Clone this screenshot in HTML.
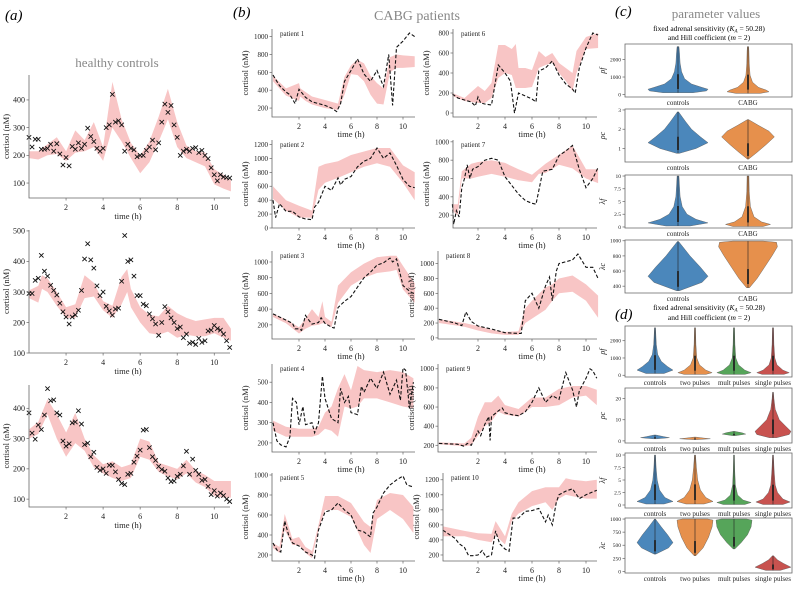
<!DOCTYPE html>
<html><head><meta charset="utf-8">
<style>
html,body{margin:0;padding:0;background:#fff;}
svg, svg text{font-family:"Liberation Serif","DejaVu Serif",serif;}
</style></head>
<body>
<svg id="fig" width="793" height="586" viewBox="0 0 793 586" xmlns="http://www.w3.org/2000/svg" font-family="Liberation Serif, serif">
<text x="5" y="20" font-size="15" font-style="italic">(a)</text>
<text x="117" y="67" font-size="13" fill="#888" text-anchor="middle">healthy controls</text>
<text x="233" y="17" font-size="15" font-style="italic">(b)</text>
<text x="417" y="20" font-size="14" fill="#888" text-anchor="middle">CABG patients</text>
<text x="615" y="16" font-size="15" font-style="italic">(c)</text>
<text x="716" y="18" font-size="13" fill="#888" text-anchor="middle">parameter values</text>
<text x="709" y="31" font-size="7.5" text-anchor="middle">fixed adrenal sensitivity (<tspan font-style="italic">K<tspan font-size="5" dy="1.5">A</tspan></tspan><tspan dy="-1.5"> = 50.28)</tspan></text>
<text x="709" y="40" font-size="7.5" text-anchor="middle">and Hill coefficient (<tspan font-style="italic">m</tspan> = 2)</text>
<text x="615" y="319" font-size="15" font-style="italic">(d)</text>
<text x="709" y="310" font-size="7.5" text-anchor="middle">fixed adrenal sensitivity (<tspan font-style="italic">K<tspan font-size="5" dy="1.5">A</tspan></tspan><tspan dy="-1.5"> = 50.28)</tspan></text>
<text x="709" y="320" font-size="7.5" text-anchor="middle">and Hill coefficient (<tspan font-style="italic">m</tspan> = 2)</text>
</svg>
<script>
// ---------- Panel (a): healthy controls (10-min samples) ----------
const a1Vals=[265,230,258,258,222,222,225,240,215,242,205,165,192,162,232,222,245,225,240,298,268,250,225,215,225,300,310,420,320,325,310,215,240,225,220,195,200,200,218,230,255,220,245,320,385,355,380,310,265,200,215,222,215,225,228,210,218,200,188,155,130,108,130,122,120,118];
const a1BandT=[0,0.5,1,1.5,2,2.5,3,3.5,4,4.5,5,5.5,6,6.5,7,7.5,8,8.5,9,9.5,10,10.5,10.9];
const a1Lo=[190,185,200,205,180,210,215,230,180,300,250,190,135,175,250,330,230,190,175,160,95,80,70];
const a1Hi=[215,215,240,265,215,290,255,320,230,465,330,245,200,250,340,440,320,235,215,210,150,130,110];
const a2Vals=[295,295,338,345,420,368,352,322,305,290,263,235,218,195,218,225,240,305,408,458,405,378,320,288,300,253,238,224,244,247,335,485,400,405,352,288,288,260,255,228,212,195,158,200,252,235,215,200,180,185,150,162,132,135,128,148,135,140,172,175,190,180,175,162,140,118];
const a2BandT=[0,0.5,0.7,1,1.5,2,2.5,3,3.5,4,4.5,5,5.3,5.5,6,6.5,7,7.5,8,8.5,9,9.5,10,10.5,10.9];
const a2Lo=[280,265,310,300,255,215,215,280,285,240,215,260,300,250,200,165,160,170,150,160,155,155,165,150,140];
const a2Hi=[305,320,355,345,300,250,260,355,330,270,255,350,375,310,250,225,220,255,230,215,205,210,215,215,180];
const a3Vals=[385,318,298,345,330,378,465,425,428,385,378,292,275,283,352,355,392,348,280,285,240,255,205,195,200,185,212,212,190,165,152,148,182,185,222,242,262,328,330,270,240,228,208,198,192,170,158,160,175,182,210,258,182,232,195,182,162,165,142,115,128,110,120,112,100,92];
const a3BandT=[0,0.5,1,1.5,2,2.5,3,3.5,4,4.5,5,5.5,6,6.5,7,7.5,8,8.5,9,9.5,10,10.5,10.9];
const a3Lo=[300,315,380,300,240,285,260,205,185,170,160,170,240,230,190,175,165,185,155,140,110,105,105];
const a3Hi=[330,355,430,380,320,385,300,245,215,225,205,215,300,290,220,210,200,230,195,180,160,160,160];
const aTicksX=[2,4,6,8,10];
const a1TicksY=[100,200,300,400];
const a2TicksY=[100,200,300,400,500];
const a3TicksY=[100,200,300,400];

// ---------- Panel (b): CABG patients ----------
const p1T=[0,0.5,1,1.3,1.7,2,2.5,3,3.5,4,4.5,4.9,5.2,5.5,6,6.5,7,7.5,8,8.5,8.9,9.2,9.5,10,10.5,10.9];
const p1V=[570,450,380,350,250,410,320,270,250,230,200,160,250,500,620,750,580,500,620,440,800,230,880,950,1040,1000];
const p1BT=[0,1,2,2.1,2.5,3,4,5,5.5,6,6.5,7,7.5,8,8.5,9,9.5,10,10.9];
const p1Lo=[500,340,280,330,280,240,200,180,350,580,570,500,350,250,240,600,650,650,660];
const p1Hi=[560,420,480,420,380,330,290,250,550,680,740,700,560,480,420,770,800,790,780];
const p6T=[0.1,0.5,1,1.5,1.8,2,2.2,2.5,3,3.5,4,4.4,4.7,5,5.5,6,6.3,6.5,7,7.5,8,8.5,9,9.2,9.5,10,10.5,10.9];
const p6V=[190,150,130,110,70,160,100,90,80,480,400,320,0,200,170,140,110,420,450,520,380,290,240,200,450,650,800,780];
const p6BT=[0.1,1,2,2.5,3,3.5,4,4.5,4.8,5,5.5,6,6.5,7,7.5,8,8.5,9,9.3,10,10.9];
const p6Lo=[170,120,100,100,150,350,400,380,250,250,250,260,450,480,500,400,320,220,400,640,650];
const p6Hi=[200,150,270,220,300,680,680,640,690,450,450,430,620,560,600,500,450,400,620,760,800];
const p2T=[0,0.2,0.5,1,1.5,2,2.5,3,3.2,3.5,4,4.5,5,5.2,5.5,6,6.5,7,7.5,8,8.5,9,9.5,10,10.5,10.9];
const p2V=[400,150,350,240,240,160,130,120,300,370,600,540,720,620,700,740,880,960,1000,1150,1000,1080,900,700,600,580];
const p2BT=[0,1,2,3,3.5,4,5,6,7,8,9,10,10.9];
const p2Lo=[420,250,150,150,550,650,720,800,880,930,880,650,400];
const p2Hi=[600,400,320,250,880,920,960,1050,1100,1150,1150,900,800];
const p7T=[0.1,0.2,0.4,0.6,0.8,1,1.2,1.4,1.6,2,2.5,3,3.5,4,5,5.5,6,6.3,6.8,7.5,8,8.5,9,9.5,10,10.5,10.9];
const p7V=[320,100,250,180,500,600,750,600,700,730,800,820,800,620,430,360,330,320,680,700,850,900,960,700,500,600,720];
const p7BT=[0.1,0.5,0.8,1.5,2,3,4,5,6,6.5,7,8,9,10,10.9];
const p7Lo=[250,200,600,600,620,650,620,580,560,650,660,750,710,600,550];
const p7Hi=[320,320,680,760,780,800,770,700,640,700,760,860,960,700,700];
const p3T=[0,0.5,1,1.5,1.7,2,2.2,2.5,2.8,3,3.5,3.7,4,4.5,4.7,5,5.5,6,6.5,7,7.5,8,8.5,9,9.2,9.5,10,10.5,10.9];
const p3V=[340,300,260,220,150,150,130,320,250,210,230,290,220,170,160,420,500,560,680,800,870,960,990,1050,1000,1040,700,630,590];
const p3BT=[0,1,2,2.5,3,3.5,3.8,4,4.5,5,6,7,8,9,9.5,10,10.9];
const p3Lo=[300,220,90,150,190,200,220,220,170,480,700,800,860,880,900,650,480];
const p3Hi=[340,270,170,280,400,300,500,300,240,700,870,980,1060,1080,1080,950,730];
const p8T=[-0.9,0.3,0.8,1.1,1.5,2,3,4,5,5.2,5.5,6,6.5,7,7.3,7.5,7.8,8,9,9.4,10,10.5,10.9];
const p8V=[250,200,165,350,220,160,120,70,60,60,500,600,400,700,820,500,900,1000,1050,1130,950,950,800];
const p8BT=[-0.9,1,2,3,4,5,5.5,6,7,7.5,8,9,10,10.9];
const p8Lo=[200,150,100,60,40,40,200,260,380,500,600,620,500,270];
const p8Hi=[250,200,160,110,80,90,400,500,680,720,800,840,720,570];
const p4T=[0,0.3,0.6,1,1.3,1.5,1.8,2,2.3,2.5,3,3.2,3.5,3.8,4,4.5,5,5.2,5.5,5.8,6,6.5,6.8,7,7.5,8,8.5,9,9.5,9.8,10,10.2,10.5,10.8];
const p4V=[300,210,190,180,230,420,400,290,380,290,300,250,300,530,420,320,300,470,400,430,350,340,480,450,520,470,550,440,510,410,570,560,370,500];
const p4BT=[0,1,2,3,3.5,4,4.5,5,5.5,6,6.5,7,8,9,10,10.8];
const p4Lo=[260,230,230,230,240,270,260,230,380,370,380,420,420,400,380,370];
const p4Hi=[310,280,270,270,280,350,380,470,540,460,580,560,550,560,550,520];
const p9T=[-0.9,0.5,1,1.2,1.5,2,2.2,2.5,2.8,2.9,3,3.5,3.8,4,4.5,5,5.5,6,6.5,7,7.5,8,8.5,9,9.3,9.5,10,10.3,10.5,10.8];
const p9V=[220,210,190,220,200,350,300,420,500,250,500,560,590,540,520,510,550,650,800,650,720,680,960,780,600,770,900,1000,980,900];
const p9BT=[-0.9,1,1.5,2,2.5,3,3.5,4,5,6,7,8,9,10,10.8];
const p9Lo=[210,190,200,300,400,450,550,520,500,600,600,620,700,720,620];
const p9Hi=[230,220,280,500,650,650,720,620,580,700,700,790,820,820,780];
const p5T=[0,0.3,0.6,0.9,1.2,1.5,2,2.5,3,3.2,3.5,4,4.5,5,5.5,6,6.5,7,7.5,7.7,8,8.5,9,9.5,10,10.3,10.8];
const p5V=[320,250,230,540,400,320,290,230,200,170,450,630,650,720,650,600,450,430,380,620,680,820,900,950,990,900,880];
const p5BT=[0,0.5,0.9,1.5,2,2.5,3,3.5,4,5,6,7,7.5,8,9,10,10.8];
const p5Lo=[270,220,450,300,300,220,170,450,650,650,580,300,220,560,650,560,420];
const p5Hi=[320,280,610,360,380,280,240,500,790,790,720,530,480,750,820,800,680];
const p10T=[-0.6,0.3,0.6,1,1.3,1.6,2,2.3,2.6,3,3.3,3.6,4,4.3,4.6,5,5.5,6,6.5,7,7.2,7.5,7.8,8,8.5,9,9.5,10,10.5,10.8];
const p10V=[530,420,350,300,190,190,200,260,170,200,520,350,280,250,690,690,780,790,820,640,730,600,900,1000,1050,1080,950,1000,1040,1060];
const p10BT=[-0.6,1,2,3,3.3,4,4.5,5,6,7,7.5,8,8.5,9,10,10.8];
const p10Lo=[450,450,400,370,460,340,650,750,850,900,800,950,1000,980,950,950];
const p10Hi=[580,520,490,480,650,450,750,900,1050,1100,1100,1100,1220,1200,1180,1200];
const bTicksX=[2,4,6,8,10];

// ---------- Panels (c),(d): violins — [value, relative density] profiles ----------
const cGroups=["controls","CABG"];
const dGroups=["controls","two pulses","mult pulses","single pulses"];
const cRhoTicks=[0,1000,2000];
const cRhoControls=[[100,0.5],[200,0.95],[300,1],[400,0.8],[600,0.45],[900,0.22],[1300,0.12],[1800,0.07],[2400,0.05],[2750,0.03]];
const cRhoCABG=[[60,0.4],[150,0.7],[250,0.6],[400,0.35],[700,0.15],[1100,0.07],[1800,0.04],[2500,0.03],[2750,0.02]];
const cRcTicks=[1,2,3];
const cRcControls=[[0.75,0.05],[1,0.6],[1.3,1],[1.6,0.75],[2,0.45],[2.4,0.25],[2.9,0.02]];
const cRcCABG=[[0.45,0.02],[0.8,0.3],[1.2,0.6],[1.6,0.88],[1.9,0.7],[2.2,0.35],[2.5,0.02]];
const cLpTicks=[0,2.5,5,7.5,10];
const cLpControls=[[0.2,0.4],[0.8,1],[1.5,0.6],[2.5,0.3],[4,0.14],[6,0.07],[8,0.05],[10,0.03]];
const cLpCABG=[[0.1,0.5],[0.5,0.75],[1,0.45],[2,0.2],[4,0.08],[7,0.04],[10,0.03]];
const cLcTicks=[400,600,800,1000];
const cLcControls=[[340,0.05],[450,0.8],[530,1],[650,0.75],[800,0.4],[900,0.2],[990,0.02]];
const cLcCABG=[[380,0.05],[500,0.3],[650,0.55],[800,0.8],[920,0.98],[980,0.95],[995,0.5]];
const dRhoTicks=[0,1000,2000];
const dRhoControls=[[100,0.5],[300,1],[500,0.7],[800,0.35],[1200,0.15],[1800,0.07],[2750,0.03]];
const dRhoTwo=[[50,0.6],[150,0.95],[300,0.6],[600,0.25],[1000,0.1],[1800,0.05],[2750,0.03]];
const dRhoMult=[[50,0.6],[150,0.95],[300,0.6],[600,0.25],[1000,0.1],[1800,0.05],[2750,0.03]];
const dRhoSingle=[[50,0.6],[150,0.9],[300,0.55],[600,0.22],[1000,0.1],[1800,0.05],[2750,0.03]];
const dRcTicks=[0,10,20];
const dRcControls=[[1,0.1],[1.5,0.8],[2,0.5],[2.8,0.05]];
const dRcTwo=[[0.6,0.1],[1,0.85],[1.3,0.5],[1.8,0.05]];
const dRcMult=[[2.5,0.1],[3.2,0.65],[3.8,0.45],[4.5,0.05]];
const dRcSingle=[[1.5,0.2],[3,0.9],[4.5,1],[7,0.7],[10,0.35],[15,0.12],[20,0.05],[23,0.02]];
const dLpTicks=[0,2.5,5,7.5,10];
const dLpControls=[[0.2,0.5],[0.7,1],[1.5,0.55],[3,0.25],[5,0.12],[7.5,0.06],[10,0.03]];
const dLpTwo=[[0.2,0.5],[0.7,1],[1.5,0.6],[3,0.3],[5,0.15],[7.5,0.08],[10,0.03]];
const dLpMult=[[0.1,0.6],[0.5,0.95],[1,0.5],[2,0.2],[4,0.08],[7,0.04],[10,0.02]];
const dLpSingle=[[0.1,0.55],[0.6,0.95],[1.2,0.55],[2.5,0.25],[4,0.12],[7,0.06],[10,0.02]];
const dLcTicks=[0,250,500,750,1000];
const dLcControls=[[330,0.05],[450,0.75],[550,1],[700,0.7],[850,0.35],[1000,0.02]];
const dLcTwo=[[300,0.05],[450,0.45],[650,0.75],[850,0.95],[980,1],[1000,0.7]];
const dLcMult=[[430,0.05],[550,0.4],[700,0.75],[850,0.95],[980,1],[1000,0.7]];
const dLcSingle=[[20,0.4],[80,1],[150,0.6],[220,0.25],[300,0.03]];

// ---------- drawing helpers ----------
const NS="http://www.w3.org/2000/svg";
const svg=document.getElementById('fig');
function mk(tag,attrs,parent){const e=document.createElementNS(NS,tag);for(const k in attrs)e.setAttribute(k,attrs[k]);(parent||svg).appendChild(e);return e;}
function lin(d0,d1,r0,r1){return v=>r0+(v-d0)*(r1-r0)/(d1-d0);}

function axesFrame(g,x0,x1,y0,y1,box){
  const spine=mk('path',{d:box?`M${x0},${y0}H${x1}V${y1}H${x0}Z`:`M${x0},${y0}V${y1}H${x1}`,fill:'none',stroke:'#666','stroke-width':0.8},g);
  
  
}
function yTicks(g,ticks,sy,x0,fs,name){
  ticks.forEach(t=>{
    const y=sy(t);
    mk('line',{x1:x0-2.5,x2:x0,y1:y,y2:y,stroke:'#666','stroke-width':0.7},g);
    const tx=mk('text',{x:x0-4,y:y+fs*0.35,'font-size':fs,'text-anchor':'end',fill:'#222'},g);
    tx.textContent=String(t);
    
    
  });
}
function xTicks(g,ticks,sx,y1,fs){
  ticks.forEach(t=>{
    const x=sx(t);
    mk('line',{x1:x,x2:x,y1:y1,y2:y1+2.5,stroke:'#666','stroke-width':0.7},g);
    const tx=mk('text',{x:x,y:y1+4+fs,'font-size':fs,'text-anchor':'middle',fill:'#222'},g);
    tx.textContent=String(t);
    
    
  });
}
function bandPath(sx,sy,T,lo,hi){
  let d='M'+T.map((t,i)=>sx(t).toFixed(1)+','+sy(hi[i]).toFixed(1)).join('L');
  for(let i=T.length-1;i>=0;i--)d+='L'+sx(T[i]).toFixed(1)+','+sy(lo[i]).toFixed(1);
  return d+'Z';
}
function label(g,txt,x,y,fs,name,rot){
  const t=mk('text',{x:x,y:y,'font-size':fs,'text-anchor':'middle',fill:'#222'},g);
  if(rot)t.setAttribute('transform',`rotate(-90 ${x} ${y})`);
  t.textContent=txt;
  
  
}

// ---------- panel (a) ----------
function controlPlot(id,vals,bT,lo,hi,yt,box){
  const g=mk('g',{});
  
  
  const sx=lin(0,10.85,29,230), sy=lin(box.ymin,box.ymax,box.y1,box.y0);
  const band=mk('path',{d:bandPath(sx,sy,bT,lo,hi),fill:'#f8c5c5',stroke:'none'},g);
  
  
  vals.forEach((v,i)=>{
    const x=sx(i/6),y=sy(v),s=2.2;
    const m=mk('path',{d:`M${x-s},${y-s}L${x+s},${y+s}M${x-s},${y+s}L${x+s},${y-s}`,stroke:'#111','stroke-width':0.9},g);
    
    
  });
  axesFrame(g,29,230,box.y0,box.y1,false);
  yTicks(g,yt,sy,29,8,'y-tick-label');
  xTicks(g,aTicksX,sx,box.y1,8);
  label(g,'time (h)',128,box.y1+21,8.5,'x-axis-title');
  label(g,'cortisol (nM)',9,(box.y0+box.y1)/2,8.5,'y-axis-title',true);
}
controlPlot(1,a1Vals,a1BandT,a1Lo,a1Hi,a1TicksY,{y0:75,y1:198,ymin:46,ymax:490});
controlPlot(2,a2Vals,a2BandT,a2Lo,a2Hi,a2TicksY,{y0:230,y1:353,ymin:100,ymax:503});
controlPlot(3,a3Vals,a3BandT,a3Lo,a3Hi,a3TicksY,{y0:385,y1:507,ymin:74,ymax:477});

// ---------- panel (b) ----------
function patientPlot(n,T,V,BT,lo,hi,yt,c){
  const g=mk('g',{});
  
  
  const y1=c.ax, y0=c.ax-88;
  const x0=c.col===1?272:c.spine, x1=c.col===1?415:597;
  const sx=c.col===1?lin(0,2,273,299):lin(0,2,451,478);
  const sy=lin(c.ymin,c.ymax,y1,y0);
  const band=mk('path',{d:bandPath(sx,sy,BT,lo,hi),fill:'#f8c5c5',stroke:'none'},g);
  
  
  const line=mk('path',{d:'M'+T.map((t,i)=>sx(t).toFixed(1)+','+sy(V[i]).toFixed(1)).join('L'),fill:'none',stroke:'#111','stroke-width':1.1,'stroke-dasharray':'3.5,2'},g);
  
  
  axesFrame(g,x0,x1,y0,y1,false);
  yTicks(g,yt,sy,x0,7,'y-tick-label');
  xTicks(g,bTicksX,sx,y1,8);
  label(g,'time (h)',(sx(6)),y1+20,8.5,'x-axis-title');
  label(g,'cortisol (nM)',x0-24,(y0+y1)/2,8.5,'y-axis-title',true);
  const pt=mk('text',{x:x0+8,y:y0+7,'font-size':7,fill:'#222'},g);
  pt.textContent='patient '+n;
  
  
}
patientPlot(1,p1T,p1V,p1BT,p1Lo,p1Hi,[200,400,600,800,1000],{col:1,ax:117,ymin:100,ymax:1085});
patientPlot(6,p6T,p6V,p6BT,p6Lo,p6Hi,[0,200,400,600,800],{col:2,spine:453,ax:117,ymin:-40,ymax:840});
patientPlot(2,p2T,p2V,p2BT,p2Lo,p2Hi,[0,200,400,600,800,1000,1200],{col:1,ax:228,ymin:0,ymax:1265});
patientPlot(7,p7T,p7V,p7BT,p7Lo,p7Hi,[200,400,600,800,1000],{col:2,spine:453,ax:228,ymin:60,ymax:1020});
patientPlot(3,p3T,p3V,p3BT,p3Lo,p3Hi,[200,400,600,800,1000],{col:1,ax:339,ymin:20,ymax:1140});
patientPlot(8,p8T,p8V,p8BT,p8Lo,p8Hi,[0,200,400,600,800,1000],{col:2,spine:438,ax:339,ymin:-15,ymax:1170});
patientPlot(4,p4T,p4V,p4BT,p4Lo,p4Hi,[200,300,400,500],{col:1,ax:452,ymin:155,ymax:590});
patientPlot(9,p9T,p9V,p9BT,p9Lo,p9Hi,[200,400,600,800,1000],{col:2,spine:438,ax:452,ymin:130,ymax:1050});
patientPlot(5,p5T,p5V,p5BT,p5Lo,p5Hi,[200,400,600,800,1000],{col:1,ax:561,ymin:140,ymax:1020});
patientPlot(10,p10T,p10V,p10BT,p10Lo,p10Hi,[200,400,600,800,1000,1200],{col:2,spine:443,ax:561,ymin:120,ymax:1290});

// ---------- panels (c),(d) ----------
const vColors=['#4b87bb','#e6904c','#56a55a','#c8524f'];
function violinBox(name,sym,y0,y1,ymin,ymax,ticks,groups,centers,profiles,hw){
  const g=mk('g',{});
  
  
  const sy=lin(ymin,ymax,y1,y0);
  profiles.forEach((p,k)=>{
    const cx=centers[k];
    let d='M'+p.map(q=>(cx+q[1]*hw).toFixed(1)+','+sy(q[0]).toFixed(1)).join('L');
    for(let i=p.length-1;i>=0;i--)d+='L'+(cx-p[i][1]*hw).toFixed(1)+','+sy(p[i][0]).toFixed(1);
    const v=mk('path',{d:d+'Z',fill:vColors[k],stroke:'#555','stroke-width':0.4},g);
    
    
    const lo=p[0][0],hi=p[p.length-1][0];
    mk('line',{x1:cx,x2:cx,y1:sy(lo),y2:sy(hi),stroke:'#222','stroke-width':0.6},g);
    mk('line',{x1:cx,x2:cx,y1:sy(lo+(hi-lo)*0.08),y2:sy(lo+(hi-lo)*0.4),stroke:'#222','stroke-width':1.8},g);
    const t=mk('text',{x:cx,y:y1+8,'font-size':7,'text-anchor':'middle',fill:'#222'},g);
    t.textContent=groups[k];
    
    
  });
  axesFrame(g,625,792,y0,y1,true);
  yTicks(g,ticks,sy,625,5.5,'y-tick-label');
  const yl=mk('text',{x:605,y:(y0+y1)/2,'font-size':8,'font-style':'italic','text-anchor':'middle',fill:'#222',transform:`rotate(-90 605 ${(y0+y1)/2})`},g);
  yl.textContent=sym;
  
  
}
const cC=[678,748], dC=[655,695,734,773];
violinBox('c-rho-f-violins','ρf',44,97,-150,2900,cRhoTicks,cGroups,cC,[cRhoControls,cRhoCABG],30);
violinBox('c-rho-c-violins','ρc',109,162,0.3,3.05,cRcTicks,cGroups,cC,[cRcControls,cRcCABG],30);
violinBox('c-lambda-f-violins','λf',175,228,-0.2,10.2,cLpTicks,cGroups,cC,[cLpControls,cLpCABG],30);
violinBox('c-lambda-c-violins','λc',240,293,310,1010,cLcTicks,cGroups,cC,[cLcControls,cLcCABG],30);
violinBox('d-rho-f-violins','ρf',326,377,-100,2850,dRhoTicks,dGroups,dC,[dRhoControls,dRhoTwo,dRhoMult,dRhoSingle],18);
violinBox('d-rho-c-violins','ρc',388,443,-1,25,dRcTicks,dGroups,dC,[dRcControls,dRcTwo,dRcMult,dRcSingle],18);
violinBox('d-lambda-f-violins','λf',453,508,-0.6,10.4,dLpTicks,dGroups,dC,[dLpControls,dLpTwo,dLpMult,dLpSingle],18);
violinBox('d-lambda-c-violins','λc',518,573,-30,1020,dLcTicks,dGroups,dC,[dLcControls,dLcTwo,dLcMult,dLcSingle],18);
</script>
</body></html>
